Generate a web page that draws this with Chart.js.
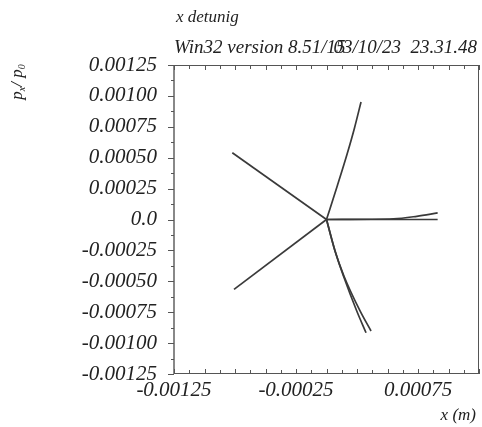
<!DOCTYPE html>
<html>
<head>
<meta charset="utf-8">
<script src="https://cdn.jsdelivr.net/npm/chart.js@4.4.0/dist/chart.umd.min.js"></script>
<style>
  html, body { margin: 0; padding: 0; background: #fff; }
</style>
</head>
<body>
<canvas id="c" width="482" height="427"></canvas>
<script>
// phase space tracks: x (m) against px/p0
const leftUpX = [0, -0.000772];
const leftUpY = [0, 0.00054];
const leftDownX = [0, -0.000758];
const leftDownY = [0, -0.000565];
const upX = [0, 0.00009, 0.000172, 0.00023, 0.000283];
const upY = [0, 0.000277, 0.00054, 0.000743, 0.000951];
const downAX = [0, 0.00007, 0.000139, 0.000248, 0.000324];
const downAY = [0, -0.000255, -0.000457, -0.00074, -0.000916];
const downBX = [0, 0.00007, 0.000142, 0.000275, 0.000365];
const downBY = [0, -0.000255, -0.000455, -0.00074, -0.000902];
const rightAX = [0, 0.00055, 0.00074, 0.000911];
const rightAY = [0, 0.000006, 0.000026, 0.000053];
const rightBX = [0, 0.000911];
const rightBY = [0, 0];

// axis ticks and labels
const xTickValues = [-0.00125, -0.00025, 0.00075];
const xTickLabels = ['-0.00125', '-0.00025', '0.00075'];
const yTickValues = [-0.00125, -0.001, -0.00075, -0.0005, -0.00025, 0, 0.00025, 0.0005, 0.00075, 0.001, 0.00125];
const yTickLabels = ['-0.00125', '-0.00100', '-0.00075', '-0.00050', '-0.00025', '0.0', '0.00025', '0.00050', '0.00075', '0.00100', '0.00125'];

const SERIF = '"Liberation Serif", "Times New Roman", serif';

function pts(xs, ys) {
    return xs.map((x, i) => ({ x: x, y: ys[i] }));
}

function track(xs, ys, curved) {
    return {
        data: pts(xs, ys),
        showLine: true,
        borderColor: '#3a3a3a',
        borderWidth: 1.7,
        pointRadius: 0,
        cubicInterpolationMode: curved ? 'monotone' : 'default',
        tension: curved ? 0.4 : 0,
        fill: false
    };
}

// frame, minor ticks and free text drawn on top of the plot
const framePlugin = {
    id: 'frame',
    afterDraw(chart) {
        const ctx = chart.ctx;
        const a = chart.chartArea;
        const xs = chart.scales.x, ys = chart.scales.y;
        ctx.save();

        // box
        ctx.strokeStyle = '#555';
        ctx.lineWidth = 1;
        ctx.beginPath();
        ctx.moveTo(a.left, a.top + 0.5); ctx.lineTo(a.right, a.top + 0.5);
        ctx.moveTo(a.right - 0.5, a.top); ctx.lineTo(a.right - 0.5, a.bottom);
        ctx.moveTo(a.left, a.bottom - 0.5); ctx.lineTo(a.right, a.bottom - 0.5);
        ctx.stroke();
        ctx.strokeStyle = '#888';
        ctx.lineWidth = 2;
        ctx.beginPath();
        ctx.moveTo(a.left, a.top); ctx.lineTo(a.left, a.bottom);
        ctx.stroke();

        // tick marks every 0.000125
        ctx.strokeStyle = '#555';
        ctx.lineWidth = 1;
        ctx.beginPath();
        for (let k = 0; k <= 20; k++) {
            const v = -0.00125 + k * 0.000125;
            const major = k % 2 === 0;
            const py = Math.round(ys.getPixelForValue(v)) + 0.5;
            ctx.moveTo(a.left - (major ? 6 : 3), py); ctx.lineTo(a.left, py);
            const px = Math.round(xs.getPixelForValue(v)) + 0.5;
            const len = major ? 5 : 4;
            ctx.moveTo(px, a.bottom); ctx.lineTo(px, a.bottom - len);
            ctx.moveTo(px, a.top); ctx.lineTo(px, a.top + len);
        }
        ctx.stroke();

        // headings
        ctx.fillStyle = '#222';
        ctx.textBaseline = 'alphabetic';
        ctx.font = 'italic 17px ' + SERIF;
        ctx.textAlign = 'left';
        ctx.fillText('x detunig', 176, 22);
        ctx.font = 'italic 19px ' + SERIF;
        ctx.fillText('Win32 version 8.51/15', 174, 53);
        ctx.textAlign = 'right';
        ctx.fillText('03/10/23  23.31.48', 477, 53);

        // x axis title
        ctx.font = 'italic 17px ' + SERIF;
        ctx.fillText('x (m)', 476, 420);

        // y axis title, rotated: px/ p0
        ctx.translate(22, 82);
        ctx.rotate(-Math.PI / 2);
        const big = 'italic 17px ' + SERIF, small = 'italic 10px ' + SERIF;
        const parts = [['p', big, 0], ['x', small, 3], ['/ ', big, 0], ['p', big, 0], ['0', small, 3]];
        let w = 0;
        parts.forEach(p => { ctx.font = p[1]; w += ctx.measureText(p[0]).width; });
        let cx = -w / 2;
        ctx.textAlign = 'left';
        parts.forEach(p => {
            ctx.font = p[1];
            ctx.fillText(p[0], cx, p[2]);
            cx += ctx.measureText(p[0]).width;
        });
        ctx.restore();
    }
};

new Chart(document.getElementById('c'), {
    type: 'scatter',
    data: {
        datasets: [
            track(leftUpX, leftUpY, false),
            track(leftDownX, leftDownY, false),
            track(upX, upY, true),
            track(downAX, downAY, true),
            track(downBX, downBY, true),
            track(rightAX, rightAY, true),
            track(rightBX, rightBY, false)
        ]
    },
    options: {
        responsive: false,
        animation: false,
        layout: { padding: { top: 65, right: 3, left: 0, bottom: 0 } },
        plugins: { legend: { display: false }, tooltip: { enabled: false } },
        scales: {
            x: {
                type: 'linear',
                min: -0.00125,
                max: 0.00125,
                grid: { display: false },
                border: { display: false },
                afterBuildTicks: s => { s.ticks = xTickValues.map(v => ({ value: v })); },
                afterFit: s => { s.height = 53; },
                ticks: {
                    autoSkip: false,
                    maxRotation: 0,
                    padding: -4,
                    color: '#222',
                    font: { family: SERIF, style: 'italic', size: 21 },
                    callback: (v, i) => xTickLabels[i]
                }
            },
            y: {
                type: 'linear',
                min: -0.00125,
                max: 0.00125,
                grid: { display: false },
                border: { display: false },
                afterBuildTicks: s => { s.ticks = yTickValues.map(v => ({ value: v })); },
                afterFit: s => { s.width = 174; },
                ticks: {
                    autoSkip: false,
                    padding: 9,
                    color: '#222',
                    font: { family: SERIF, style: 'italic', size: 21 },
                    callback: (v, i) => yTickLabels[i]
                }
            }
        }
    },
    plugins: [framePlugin]
});
</script>
</body>
</html>
